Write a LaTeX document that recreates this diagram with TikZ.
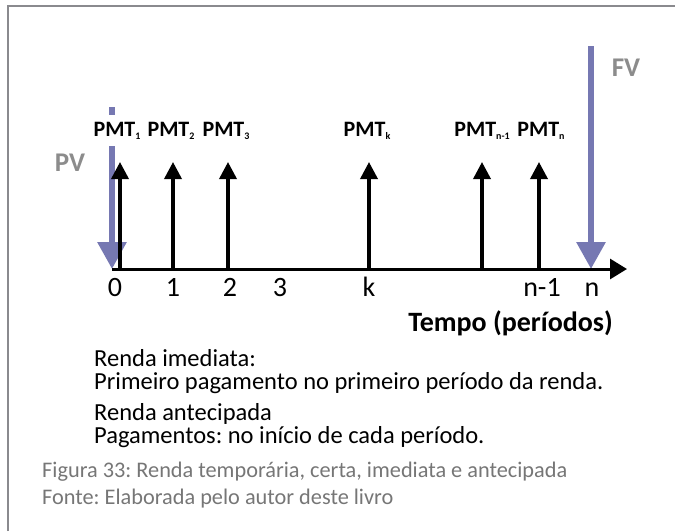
\documentclass[tikz,border=0pt]{standalone}
\usepackage{fontspec}
\setmainfont{Carlito}
\usetikzlibrary{arrows.meta}
\definecolor{fluxo}{RGB}{118,120,178}
\definecolor{rotulo}{RGB}{140,140,140}
\definecolor{legenda}{RGB}{118,118,118}
\definecolor{moldura}{RGB}{138,138,142}
\newcommand{\pmtidx}[1]{\raisebox{-0.3ex}{\fontsize{10}{10}\selectfont #1}}
\frenchspacing

\begin{document}
\begin{tikzpicture}[x=1pt,y=-1pt,
  pmt/.style={-{Triangle[length=17pt,width=17pt]}, line width=3.5pt},
  fv/.style={-{Triangle[length=27pt,width=28pt]}, line width=6pt, draw=fluxo},
  pmtlab/.style={font=\bfseries\fontsize{22}{22}\selectfont, fill=white, inner xsep=1pt, inner ysep=7pt, anchor=base},
  ticklab/.style={font=\fontsize{28}{28}\selectfont, inner sep=0pt, anchor=base},
  vlab/.style={font=\bfseries\fontsize{27}{27}\selectfont, text=rotulo, inner sep=0pt, anchor=base},
  texto/.style={font=\fontsize{24.5}{24.5}\selectfont, inner sep=0pt, anchor=base west},
  fonte/.style={font=\fontsize{22.3}{22.3}\selectfont, text=legenda, inner sep=0pt, anchor=base west}]
\useasboundingbox (0,0) rectangle (675,531);
\draw[moldura, line width=2pt] (8,531) -- (8,6) -- (675,6);
% eixo do tempo
\coordinate (o) at (112,269);
\coordinate (fim) at (627,269);
% valor presente e valor futuro
\coordinate (pvtop) at (112,107);
\coordinate (fvtop) at (591,46);
\coordinate (fvbase) at (591,269);
\draw[fv] (pvtop) -- (o);
\draw[fv] (fvtop) -- (fvbase);
\node[vlab] (pv) at (70,171) {PV};
\node[vlab] (fvl) at (626,76) {FV};
% pagamentos
\foreach \x/\n in {120/1, 173/2, 228/3, 369/k, 482/n1, 539/n} {
  \coordinate (b\n) at (\x,269);
  \coordinate (t\n) at (\x,162);
  \draw[pmt] (b\n) -- (t\n);
}
\node[pmtlab] (p1) at (117,136) {PMT\pmtidx{1}};
\node[pmtlab] (p2) at (171,136) {PMT\pmtidx{2}};
\node[pmtlab] (p3) at (226,136) {PMT\pmtidx{3}};
\node[pmtlab] (pk) at (367,136) {PMT\pmtidx{k}};
\node[pmtlab] (pn1) at (482,136) {PMT\pmtidx{n-1}};
\node[pmtlab] (pn) at (541,136) {PMT\pmtidx{n}};
\draw[-{Triangle[length=17pt,width=20pt]}, line width=3pt] (o) -- (fim);
% periodos
\foreach \x/\t/\n in {115/0/0, 173/1/1, 230/2/2, 280/3/3, 369/k/k, 542/n-1/n1, 592/n/n}
  \node[ticklab] (l\n) at (\x,296) {\t};
\node[font=\bfseries\fontsize{28}{28}\selectfont, inner sep=0pt, anchor=base east] (tempo) at (613,331) {Tempo (períodos)};
% texto explicativo
\node[texto] (r1) at (94,366) {Renda imediata:};
\node[texto] (r2) at (94,389.5) {Primeiro pagamento no primeiro período da renda.};
\node[texto] (r3) at (94,420) {Renda antecipada};
\node[texto] (r4) at (94,443.6) {Pagamentos: no início de cada período.};
\node[fonte] (cap1) at (42,477.5) {Figura 33: Renda temporária, certa, imediata e antecipada};
\node[fonte] (cap2) at (42,504.6) {Fonte: Elaborada pelo autor deste livro};
\end{tikzpicture}
\end{document}
